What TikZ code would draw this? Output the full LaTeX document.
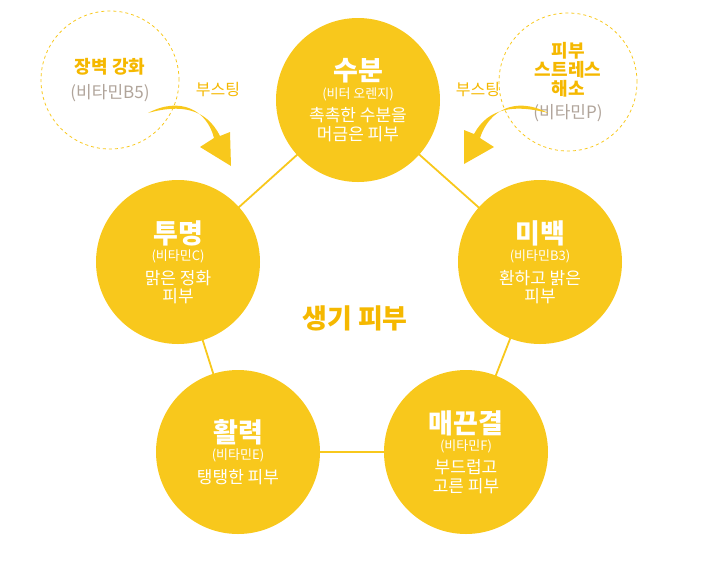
\documentclass[tikz,border=0pt]{standalone}
\usepackage{fontspec}
\setmainfont{Noto Sans CJK KR}
\usepackage{tikz}
\usetikzlibrary{arrows.meta}
\definecolor{gold}{HTML}{F8C81C}
\definecolor{deepgold}{HTML}{F5B800}
\definecolor{brownish}{HTML}{B0A49A}
\newcommand{\ttl}{\fontsize{27}{30}\selectfont\bfseries}
\newcommand{\vit}{\fontsize{13}{15}\selectfont\mdseries}
\newcommand{\bdy}{\fontsize{17}{20}\selectfont\mdseries}

\begin{document}
\begin{tikzpicture}[x=1pt,y=-1pt,
  bubble/.style={circle,fill=gold,minimum size=164pt,inner sep=0pt,text=white,align=center},
  ring/.style={circle,draw=gold,dashed,line width=0.8pt,minimum size=138pt,inner sep=0pt,align=center},
  boost/.style={text=deepgold,font=\fontsize{16}{18}\selectfont}]
\useasboundingbox (0,0) rectangle (710,566);

% edges of the pentagon
\coordinate (c1) at (358,100);
\coordinate (c2) at (540,262);
\coordinate (c3) at (466,452);
\coordinate (c4) at (238,452);
\coordinate (c5) at (178,262);
\draw[gold,line width=1.8pt] (c1) -- (c2) -- (c3) -- (c4) -- (c5) -- cycle;

\node[bubble] (water) at (c1) {\ttl 수분\\[3pt]\vit (비터 오렌지)\\[6pt]\bdy 촉촉한 수분을\\[2pt]\bdy 머금은 피부};
\node[bubble] (white) at (c2) {\ttl 미백\\[3pt]\vit (비타민B3)\\[6pt]\bdy 환하고 밝은\\[2pt]\bdy 피부};
\node[bubble] (smooth) at (c3) {\ttl 매끈결\\[3pt]\vit (비타민F)\\[6pt]\bdy 부드럽고\\[2pt]\bdy 고른 피부};
\node[bubble] (vital) at (c4) {\ttl 활력\\[3pt]\vit (비타민E)\\[6pt]\bdy 탱탱한 피부};
\node[bubble] (clear) at (c5) {\ttl 투명\\[3pt]\vit (비타민C)\\[6pt]\bdy 맑은 정화\\[2pt]\bdy 피부};

\node[text=deepgold,font=\ttl] (core) at (355,318) {생기 피부};

\node[ring] (barrier) at (110,80) {\color{deepgold}\fontsize{18}{20}\selectfont\bfseries 장벽 강화\\[8pt]\color{brownish}\fontsize{17}{20}\selectfont\mdseries (비타민B5)};
\node[ring] (relief) at (568,82) {\color{deepgold}\fontsize{18}{20}\selectfont\bfseries 피부\\[1pt]\color{deepgold}\fontsize{18}{20}\selectfont\bfseries 스트레스\\[1pt]\color{deepgold}\fontsize{18}{20}\selectfont\bfseries 해소\\[6pt]\color{brownish}\fontsize{17}{20}\selectfont\mdseries (비타민P)};

\node[boost] (boostL) at (218,90) {부스팅};
\node[boost] (boostR) at (478,90) {부스팅};

% boosting arrows
\coordinate (tipL) at (231,166);
\coordinate (tipR) at (464,164);
\fill[gold] (148,113) .. controls (180,96) and (207,110) .. (214,138)
  -- (200,147) -- (tipL) -- (230,132) -- (220,136)
  .. controls (206,108) and (180,104) .. cycle;
\fill[gold] (548,113) .. controls (516,96) and (489,110) .. (480,138)
  -- (494,147) -- (tipR) -- (464,130) -- (474,134)
  .. controls (488,108) and (514,104) .. cycle;
\end{tikzpicture}
\end{document}
